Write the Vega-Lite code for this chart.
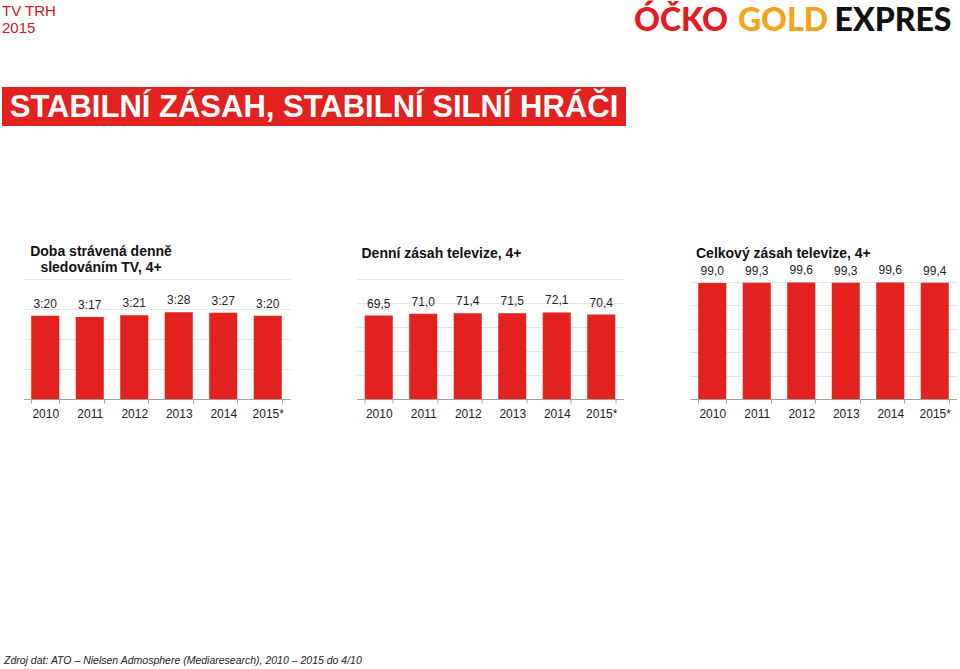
{
  "$schema": "https://vega.github.io/schema/vega-lite/v6.json",
  "background": "white",
  "padding": {"left": 2, "top": 3, "right": 0, "bottom": 0},
  "config": {
    "font": "Liberation Sans",
    "view": {"stroke": null},
    "title": {"font": "Liberation Sans"},
    "axis": {"labelFont": "Liberation Sans"}
  },
  "title": {
    "text": "Zdroj dat: ATO – Nielsen Admosphere (Mediaresearch), 2010 – 2015 do 4/10",
    "orient": "bottom",
    "anchor": "start",
    "fontSize": 10.5,
    "fontStyle": "italic",
    "fontWeight": "normal",
    "color": "#222222",
    "offset": 236,
    "dx": 2
  },
  "spacing": 119,
  "vconcat": [
    {
      "spacing": 49,
      "vconcat": [
        {
          "spacing": 0,
          "hconcat": [
            {
              "width": 628,
              "height": 1,
              "data": {"values": []},
              "mark": "text",
              "title": {
                "text": "TV TRH",
                "subtitle": "2015",
                "orient": "bottom",
                "anchor": "start",
                "frame": "group",
                "color": "#c8161d",
                "subtitleColor": "#c8161d",
                "fontSize": 15,
                "subtitleFontSize": 15,
                "fontWeight": "normal",
                "subtitleFont": "Liberation Sans",
                "offset": 0,
                "subtitlePadding": 2
              }
            },
            {
              "width": 102,
              "height": 35,
              "data": {"values": [{"slovo": "ÓČKO"}]},
              "mark": {"type": "text", "font": "Lato", "fontWeight": 900, "fontSize": 32, "color": "#e31b23"},
              "encoding": {"text": {"field": "slovo"}}
            },
            {
              "width": 102,
              "height": 35,
              "data": {"values": [{"slovo": "GOLD"}]},
              "mark": {"type": "text", "font": "Lato", "fontWeight": 900, "fontSize": 32, "color": "#f5a31c"},
              "encoding": {"text": {"field": "slovo"}}
            },
            {
              "width": 118,
              "height": 35,
              "data": {"values": [{"slovo": "EXPRES"}]},
              "mark": {"type": "text", "font": "Lato", "fontWeight": 900, "fontSize": 32, "color": "#111111"},
              "encoding": {"text": {"field": "slovo"}}
            }
          ]
        },
        {
          "width": 624,
          "height": 39,
          "view": {"fill": "#e3211f", "stroke": null},
          "data": {"values": [{"t": "STABILNÍ ZÁSAH, STABILNÍ SILNÍ HRÁČI"}]},
          "mark": {"type": "text", "color": "white", "fontSize": 31, "fontWeight": "bold", "font": "Liberation Sans", "dy": 1},
          "encoding": {"text": {"field": "t"}}
        }
      ]
    },
    {
      "spacing": 0,
      "hconcat": [
        {
          "width": 1,
          "height": 1,
          "data": {"values": []},
          "mark": "text"
        },
        {
          "spacing": 66.5,
          "hconcat": [
            {
              "width": 267,
              "height": 120,
              "title": {
                "text": ["Doba strávená denně", "sledováním TV, 4+"],
                "anchor": "start",
                "frame": "group",
                "align": "center",
                "dx": 78,
                "offset": 3.5,
                "lineHeight": 16,
                "fontSize": 14,
                "fontWeight": "bold",
                "color": "#111111"
              },
              "data": {"values": [
                {"rok": "2010", "minuty": 200, "popis": "3:20"},
                {"rok": "2011", "minuty": 197, "popis": "3:17"},
                {"rok": "2012", "minuty": 201, "popis": "3:21"},
                {"rok": "2013", "minuty": 208, "popis": "3:28"},
                {"rok": "2014", "minuty": 207, "popis": "3:27"},
                {"rok": "2015*", "minuty": 200, "popis": "3:20"}
              ]},
              "encoding": {
                "x": {"field": "rok", "type": "ordinal", "sort": null,
                  "scale": {"paddingInner": 0.37, "paddingOuter": 0.185},
                  "axis": {"title": null, "labelAngle": 0, "labelFontSize": 12, "labelColor": "#222222", "labelPadding": 5.5,
                    "tickBand": "extent", "tickSize": 4, "tickColor": "#a0a0a0", "domainColor": "#a0a0a0", "grid": false}},
                "y": {"field": "minuty", "type": "quantitative",
                  "scale": {"domain": [0, 288], "nice": false},
                  "axis": {"values": [0, 72, 144, 216, 288], "labels": false, "ticks": true, "tickSize": 19, "tickColor": "#ffffff",
                    "domain": false, "title": null, "grid": true, "gridColor": "#e4e4e4"}}
              },
              "layer": [
                {"mark": {"type": "bar", "color": "#e3211f"}},
                {"mark": {"type": "text", "baseline": "alphabetic", "dy": -8, "fontSize": 12, "color": "#222222"},
                  "encoding": {"text": {"field": "popis"}}}
              ]
            },
            {
              "width": 267,
              "height": 120,
              "title": {
                "text": "Denní zásah televize, 4+",
                "anchor": "start",
                "frame": "group",
                "dx": 5,
                "offset": 18,
                "fontSize": 14,
                "fontWeight": "bold",
                "color": "#111111"
              },
              "data": {"values": [
                {"rok": "2010", "zasah": 69.5, "popis": "69,5"},
                {"rok": "2011", "zasah": 71.0, "popis": "71,0"},
                {"rok": "2012", "zasah": 71.4, "popis": "71,4"},
                {"rok": "2013", "zasah": 71.5, "popis": "71,5"},
                {"rok": "2014", "zasah": 72.1, "popis": "72,1"},
                {"rok": "2015*", "zasah": 70.4, "popis": "70,4"}
              ]},
              "encoding": {
                "x": {"field": "rok", "type": "ordinal", "sort": null,
                  "scale": {"paddingInner": 0.37, "paddingOuter": 0.185},
                  "axis": {"title": null, "labelAngle": 0, "labelFontSize": 12, "labelColor": "#222222", "labelPadding": 5.5,
                    "tickBand": "extent", "tickSize": 4, "tickColor": "#a0a0a0", "domainColor": "#a0a0a0", "grid": false}},
                "y": {"field": "zasah", "type": "quantitative",
                  "scale": {"domain": [0, 100], "nice": false},
                  "axis": {"values": [0, 20, 40, 60, 80, 100], "labels": false, "ticks": false,
                    "domain": false, "title": null, "grid": true, "gridColor": "#e4e4e4"}}
              },
              "layer": [
                {"mark": {"type": "bar", "color": "#e3211f"}},
                {"mark": {"type": "text", "baseline": "alphabetic", "dy": -8, "fontSize": 12, "color": "#222222"},
                  "encoding": {"text": {"field": "popis"}}}
              ]
            },
            {
              "width": 267,
              "height": 120,
              "title": {
                "text": "Celkový zásah televize, 4+",
                "anchor": "start",
                "frame": "group",
                "dx": 6,
                "offset": 3,
                "fontSize": 14,
                "fontWeight": "bold",
                "color": "#111111"
              },
              "data": {"values": [
                {"rok": "2010", "zasah": 99.0, "popis": "99,0"},
                {"rok": "2011", "zasah": 99.3, "popis": "99,3"},
                {"rok": "2012", "zasah": 99.6, "popis": "99,6"},
                {"rok": "2013", "zasah": 99.3, "popis": "99,3"},
                {"rok": "2014", "zasah": 99.6, "popis": "99,6"},
                {"rok": "2015*", "zasah": 99.4, "popis": "99,4"}
              ]},
              "encoding": {
                "x": {"field": "rok", "type": "ordinal", "sort": null,
                  "scale": {"paddingInner": 0.37, "paddingOuter": 0.185},
                  "axis": {"title": null, "labelAngle": 0, "labelFontSize": 12, "labelColor": "#222222", "labelPadding": 5.5,
                    "tickBand": "extent", "tickSize": 4, "tickColor": "#a0a0a0", "domainColor": "#a0a0a0", "grid": false}},
                "y": {"field": "zasah", "type": "quantitative",
                  "scale": {"domain": [0, 102.5], "nice": false},
                  "axis": {"values": [0, 20, 40, 60, 80, 100], "labels": false, "ticks": false,
                    "domain": false, "title": null, "grid": true, "gridColor": "#e4e4e4"}}
              },
              "layer": [
                {"mark": {"type": "bar", "color": "#e3211f"}},
                {"mark": {"type": "text", "baseline": "alphabetic", "dy": -8, "fontSize": 12, "color": "#222222"},
                  "encoding": {"text": {"field": "popis"}}}
              ]
            }
          ]
        }
      ]
    }
  ]
}
